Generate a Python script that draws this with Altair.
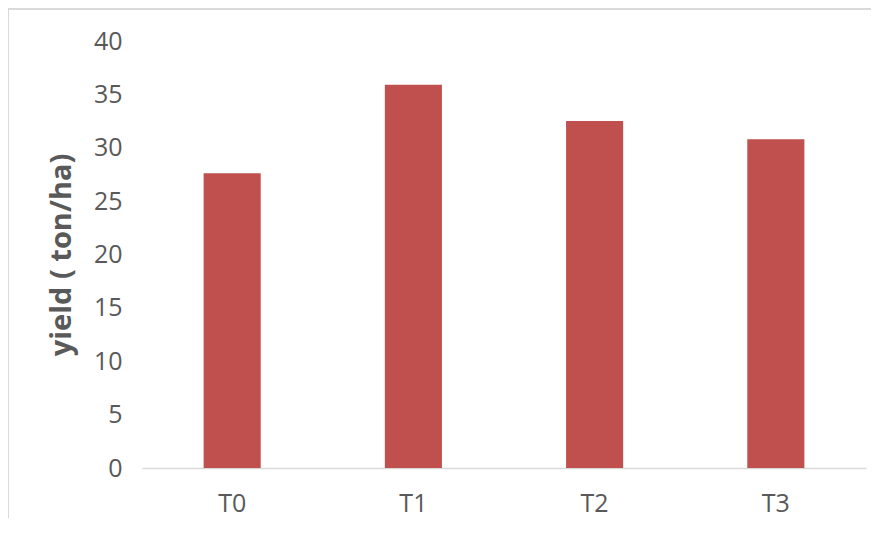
import altair as alt
import pandas as pd

categories = ["T0", "T1", "T2", "T3"]
yields = [27.6, 35.9, 32.5, 30.8]

df = pd.DataFrame({"treatment": categories, "yield": yields})

FONT = "Open Sans"

bars = alt.Chart(df).mark_bar(color="#C0504D").encode(
    x=alt.X("treatment:N", sort=categories,
            scale=alt.Scale(paddingInner=0.685, paddingOuter=0.34),
            axis=alt.Axis(title=None, labelAngle=0, ticks=False, domain=True,
                          domainColor="#D9D9D9", domainWidth=1.5,
                          labelFontSize=25, labelColor="#595959", labelFont=FONT,
                          labelPadding=23)),
    y=alt.Y("yield:Q", scale=alt.Scale(domain=[0, 40]),
            axis=alt.Axis(title="yield ( ton/ha)", values=list(range(0, 41, 5)),
                          grid=False, ticks=False, domain=False,
                          labelFontSize=25, labelColor="#595959", labelFont=FONT,
                          labelPadding=20, titleFontSize=29, titleFont=FONT,
                          titleFontWeight="bold", titleColor="#595959",
                          titlePadding=17)),
)

border_top = alt.Chart(df).mark_rule(color="#D9D9D9", strokeWidth=1.5, clip=False).encode(
    x=alt.value(-134), x2=alt.value(745), y=alt.value(-32)
)
border_left = alt.Chart(df).mark_rule(color="#D9D9D9", strokeWidth=1.5, clip=False).encode(
    x=alt.value(-134), y=alt.value(-32), y2=alt.value(500)
)

chart = alt.layer(border_top, border_left, bars).properties(
    width=724, height=427,
    autosize=alt.AutoSizeParams(type="none"),
    padding={"left": 134, "top": 33, "right": 5, "bottom": 50},
).configure_view(stroke=None)

chart.save("out.html", embed_options={"renderer": "svg", "actions": False})
